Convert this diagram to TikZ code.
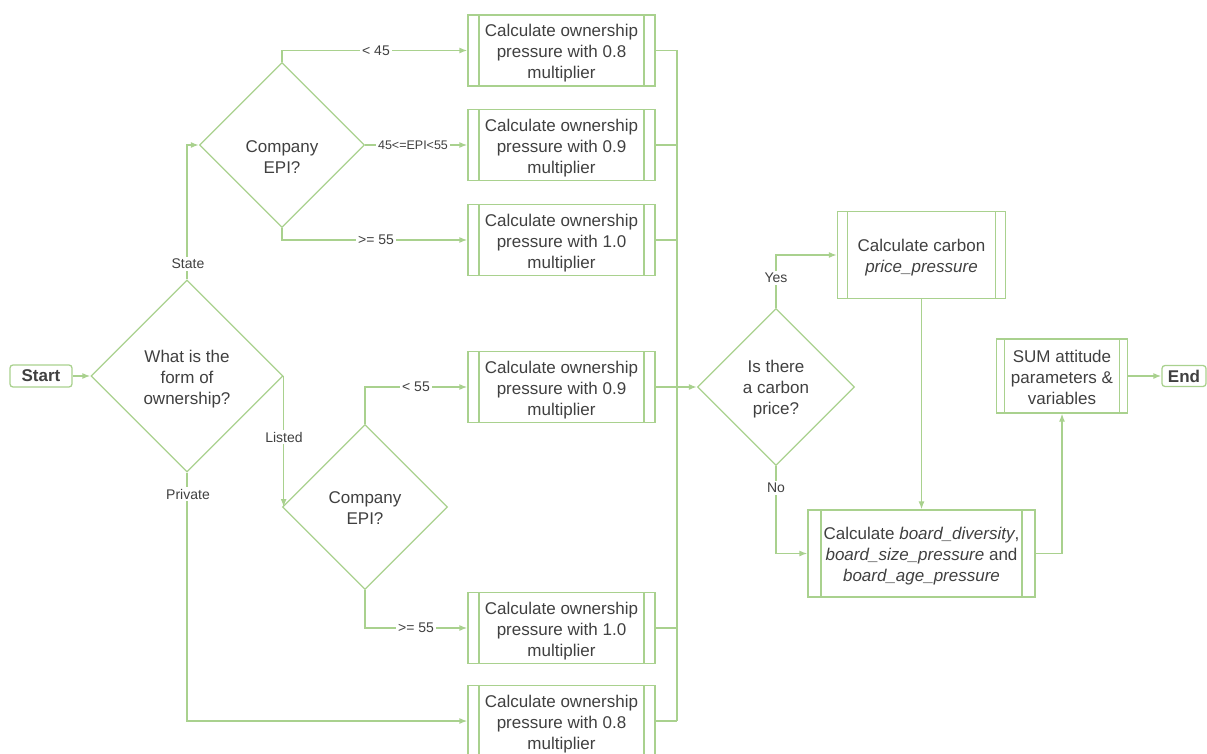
\documentclass[tikz,border=0pt]{standalone}
\usepackage{fontspec}
\setmainfont{Liberation Sans}
\usetikzlibrary{shapes.geometric,arrows.meta}
\definecolor{flow}{HTML}{A9D18E}
\definecolor{ink}{HTML}{404040}
% invisible strut that deepens the first line so a text block sits a little lower
\newcommand\tstr[1][18.4pt]{\rule{0pt}{#1}}
\tikzset{
  base/.style={draw=flow, line width=1.3pt, text=ink, align=center, inner sep=0pt,
    font=\fontsize{17}{21}\selectfont},
  proc/.style n args={3}{base, rectangle, minimum width=#1, minimum height=#2,
    path picture={\draw[flow, line width=1.3pt]
      ([xshift=#3]path picture bounding box.north west) -- ([xshift=#3]path picture bounding box.south west)
      ([xshift=-#3]path picture bounding box.north east) -- ([xshift=-#3]path picture bounding box.south east);}},
  decision/.style={base, diamond, aspect=1, minimum width=#1, minimum height=#1},
  terminal/.style={base, rounded corners=3pt, font=\bfseries\fontsize{17}{21}\selectfont},
  link/.style={draw=flow, line width=1.3pt},
  arr/.style={link, -{Latex[length=8pt,width=6pt]}},
  lbl/.style={fill=white, text=ink, inner sep=2pt, font=\fontsize{14}{16}\selectfont},
}
\begin{document}
\begin{tikzpicture}[x=1pt, y=-1pt]
\useasboundingbox (0,0) rectangle (1207,754);

% terminals
\node[terminal, minimum width=62pt, minimum height=22pt] (start) at (41,376) {Start};
\node[terminal, minimum width=44pt, minimum height=21pt] (end) at (1184,376) {End};

% decisions
\node[decision=192pt] (own) at (187,376) {\tstr What is the\\form of\\ownership?};
\node[decision=165pt] (epiS) at (282,145) {\tstr[36pt]Company\\EPI?};
\node[decision=165pt] (epiL) at (365,507) {\tstr[14pt]Company\\EPI?};
\node[decision=157pt] (carb) at (776,387) {\tstr[16pt]Is there\\a carbon\\price?};

% ownership pressure boxes
\node[proc={187pt}{71pt}{11pt}] (b1) at (561.5,50.5) {\tstr Calculate ownership\\pressure with 0.8\\multiplier};
\node[proc={187pt}{71pt}{11pt}] (b2) at (561.5,145) {\tstr Calculate ownership\\pressure with 0.9\\multiplier};
\node[proc={187pt}{71pt}{11pt}] (b3) at (561.5,240) {\tstr Calculate ownership\\pressure with 1.0\\multiplier};
\node[proc={187pt}{71pt}{11pt}] (b4) at (561.5,387) {\tstr Calculate ownership\\pressure with 0.9\\multiplier};
\node[proc={187pt}{71pt}{11pt}] (b5) at (561.5,628) {\tstr Calculate ownership\\pressure with 1.0\\multiplier};
\node[proc={187pt}{71pt}{11pt}] (b6) at (561.5,721) {\tstr Calculate ownership\\pressure with 0.8\\multiplier};

% later steps
\node[proc={168pt}{87pt}{10pt}] (price) at (921.5,255) {\tstr Calculate carbon\\\textit{price\_pressure}};
\node[proc={227pt}{87pt}{13pt}] (board) at (921.5,553.5) {\tstr Calculate \textit{board\_diversity},\\\textit{board\_size\_pressure} and\\\textit{board\_age\_pressure}};
\node[proc={131pt}{74pt}{8pt}] (sum) at (1062,376) {\tstr[16pt]SUM attitude\\parameters \&\\variables};

% collector line
\coordinate (mx) at (677,0);
\coordinate (mtop) at (b1.east -| mx);
\coordinate (mbot) at (b6.east -| mx);

% connectors
\draw[arr] (start) -- (own.west);
\draw[arr] (own.north) |- (epiS.west);
\draw[arr] (own.east) -- (own.east |- epiL.west);
\draw[arr] (own.south) |- (b6.west);

\draw[arr] (epiS.north) |- (b1.west);
\draw[arr] (epiS.east) -- (b2.west);
\draw[arr] (epiS.south) |- (b3.west);

\draw[arr] (epiL.north) |- (b4.west);
\draw[arr] (epiL.south) |- (b5.west);

\draw[link] (mtop) -- (mbot);
\draw[link] (b1.east) -- (mtop);
\draw[link] (b2.east) -- (b2.east -| mx);
\draw[link] (b3.east) -- (b3.east -| mx);
\draw[link] (b5.east) -- (b5.east -| mx);
\draw[link] (b6.east) -- (mbot);
\draw[arr] (b4.east) -- (carb.west);

\draw[arr] (carb.north) |- (price.west);
\draw[arr] (carb.south) |- (board.west);
\draw[arr] (price.south) -- (board.north);
\draw[arr] (board.east) -| (sum.south);
\draw[arr] (sum.east) -- (end.west);

% branch labels
\node[lbl] (lState) at (188,264) {State};
\node[lbl] (lListed) at (284,437) {Listed};
\node[lbl] (lPrivate) at (188,494) {Private};
\node[lbl] (l45) at (376,50.5) {< 45};
\node[lbl, font=\fontsize{12.5}{14}\selectfont] (lmid) at (413,145) {45<=EPI<55};
\node[lbl] (l55a) at (376,240) {>= 55};
\node[lbl] (l55b) at (416,387) {< 55};
\node[lbl] (l55c) at (416,628) {>= 55};
\node[lbl] (lYes) at (776,278) {Yes};
\node[lbl] (lNo) at (776,488) {No};
\end{tikzpicture}
\end{document}
